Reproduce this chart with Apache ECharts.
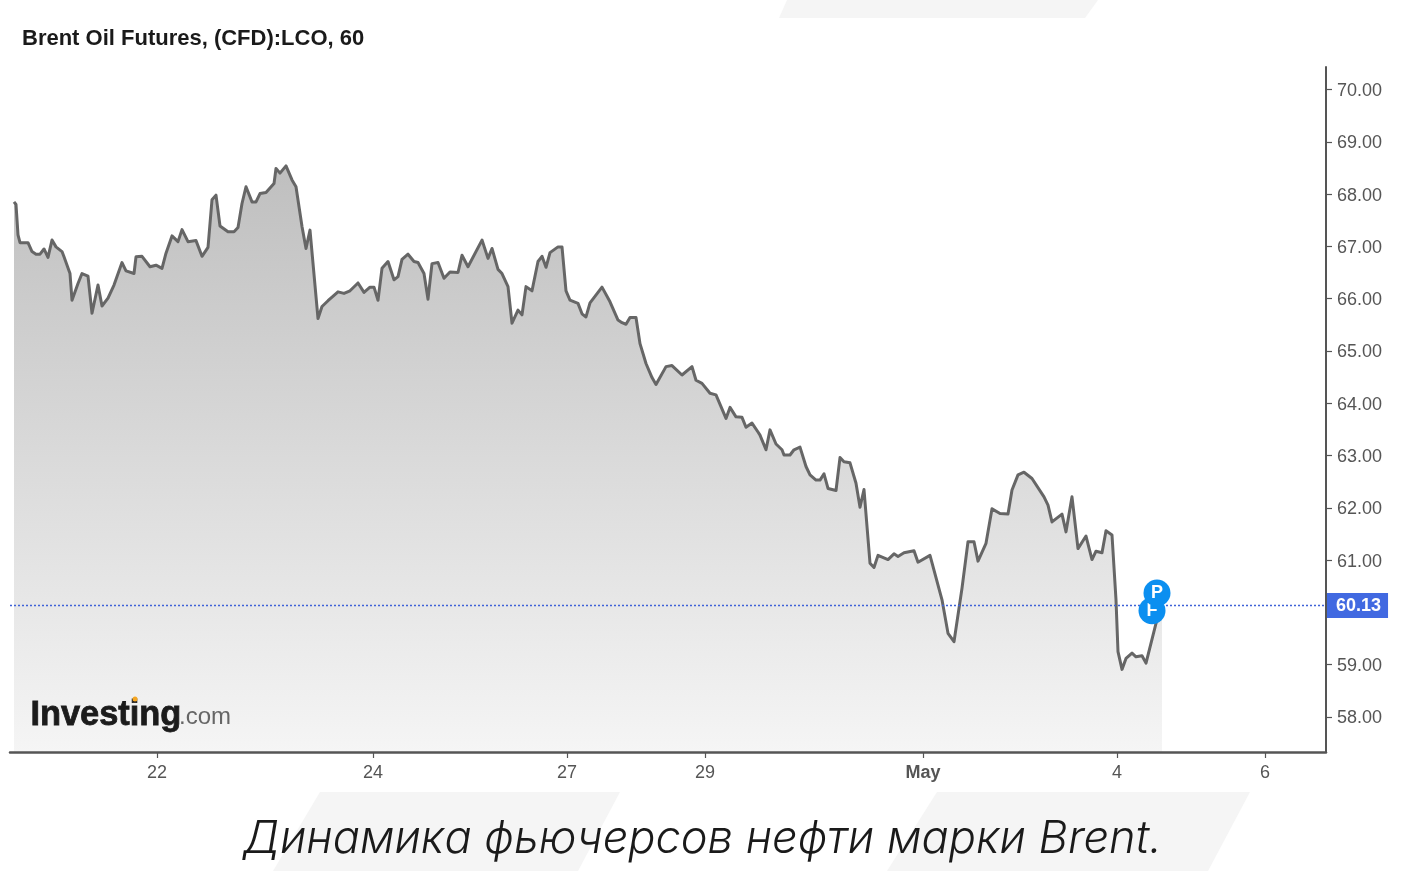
<!DOCTYPE html>
<html><head><meta charset="utf-8">
<style>html,body{margin:0;padding:0;background:#fff}#c{width:1401px;height:871px}</style>
<script src="https://cdn.jsdelivr.net/npm/echarts@6/dist/echarts.min.js"></script>
</head><body><div id="c"></div>
<script>
const barIndex = [2,3,4,5,6,9,11,13,15,17,19,21,23,26,27,30,31,34,36,37,39,41,44,46,49,52,56,58,62,63,66,70,71,73,76,78,81,84,86,89,93,96,99,101,103,105,109,112,114,116,118,121,123,125,128,132,133,135,138,141,143,146,148,150,154,156,159,164,167,170,174,177,180,182,184,186,189,192,194,196,199,202,204,207,209,211,214,217,220,224,226,229,236,239,241,244,246,249,251,254,256,258,261,264,266,268,270,274,276,278,280,284,286,288,290,296,300,304,306,308,310,313,315,318,321,323,328,331,336,341,343,346,350,353,358,360,363,366,368,371,374,375,378,380,383,386,387,390,392,395,398,400,403,405,407,409,413,415,417,420,423,425,427,430,432,434,439,442,444,447,452,454,460,466,469,472,476,479,482,484,488,491,495,499,501,504,507,511,517,519,521,526,528,531,534,538,541,543,546,548,551,553,554,556,558,561,563,566,568,573,576];
const prices = [67.85,67.8,67.22,67.07,67.06,67.07,66.9,66.85,66.85,66.95,66.79,67.12,66.99,66.9,66.8,66.48,65.97,66.29,66.48,66.48,66.43,65.72,66.26,65.86,66.01,66.26,66.69,66.53,66.48,66.8,66.81,66.61,66.58,66.64,66.58,66.87,67.2,67.09,67.32,67.09,67.11,66.81,66.98,67.89,67.98,67.39,67.28,67.28,67.36,67.82,68.14,67.85,67.85,68.01,68.03,68.2,68.49,68.4,68.54,68.27,68.14,67.38,66.96,67.31,65.62,65.85,65.96,66.13,66.1,66.15,66.3,66.12,66.22,66.22,65.97,66.58,66.71,66.36,66.42,66.75,66.85,66.71,66.69,66.48,65.99,66.67,66.69,66.39,66.51,66.5,66.83,66.61,67.12,66.77,66.96,66.56,66.48,66.23,65.53,65.78,65.69,66.23,66.15,66.71,66.81,66.6,66.88,66.99,66.99,66.15,65.97,65.91,65.71,65.65,65.92,66.22,65.94,65.59,65.54,65.51,65.64,65.64,65.14,64.76,64.49,64.36,64.7,64.72,64.54,64.7,64.44,64.38,64.19,64.16,63.71,63.92,63.74,63.73,63.54,63.62,63.45,63.39,63.11,63.49,63.22,63.11,63.01,63.01,63.11,63.16,62.79,62.63,62.53,62.53,62.65,62.37,62.33,62.96,62.88,62.86,62.47,62.01,62.35,60.94,60.86,61.09,61.01,61.12,61.07,61.14,61.18,60.96,61.09,60.24,59.6,59.44,60.46,61.35,61.35,60.98,61.32,61.98,61.89,61.88,62.34,62.63,62.68,62.56,62.21,62.05,61.73,61.88,61.54,62.21,61.22,61.46,61.01,61.17,61.14,61.56,61.48,60.24,59.25,58.91,59.12,59.22,59.15,59.17,59.03,59.79,60.13];
const lastPrice = 60.13;
const eventIndex = [571,573.5];
const eventPrices = [60.03,60.37];
const eventLabels = ['F','P'];
const yTicks = [58,59,61,62,63,64,65,66,67,68,69,70];
const xTickIndex = [73.5,181.5,278.5,347.5,456.5,553.5,627.5];
const xTickLabels = ['22','24','27','29','May','4','6'];
const titleText = 'Brent Oil Futures, (CFD):LCO, 60';
const captionText = 'Динамика фьючерсов нефти марки Brent.';

const poly = pts => ({type:'polygon',z:-10,silent:true,shape:{points:pts},style:{fill:'#f5f5f5'}});
const eventSeries = (i,z) => ({type:'scatter',data:[[eventIndex[i],eventPrices[i]]],symbol:'circle',symbolSize:27,z:z,
  itemStyle:{color:'#0b8ff0',opacity:1},
  label:{show:true,position:'inside',formatter:eventLabels[i],color:'#fff',fontWeight:'bold',fontSize:18,padding:[2,0,0,0]}});
const chart = echarts.init(document.getElementById('c'),null,{renderer:'canvas'});
chart.setOption({
  animation:false,
  backgroundColor:'#fff',
  textStyle:{fontFamily:'"Liberation Sans",Arial,sans-serif'},
  title:{text:titleText,left:17,top:23,textStyle:{fontSize:22,fontWeight:'bold',color:'#1a1a1a',fontFamily:'"Liberation Sans"'}},
  grid:{left:10,right:75,top:67,bottom:119,containLabel:false},
  xAxis:{type:'value',min:0,max:658,z:10,splitLine:{show:false},
    axisLine:{onZero:false,lineStyle:{color:'#555',width:2.5}},
    axisTick:{show:true,length:6,customValues:xTickIndex,lineStyle:{color:'#555',width:1.2}},
    axisLabel:{show:true,customValues:xTickIndex,margin:12,fontSize:18,color:'#555',hideOverlap:false,showMinLabel:true,showMaxLabel:true,
      formatter:v=>{const s=xTickLabels[xTickIndex.indexOf(v)]||'';return s==='May'?'{b|May}':s;},
      rich:{b:{fontWeight:'bold',fontSize:18,color:'#555'}}}},
  yAxis:{type:'value',position:'right',min:57.33,max:70.43,z:10,splitLine:{show:false},
    axisLine:{show:true,onZero:false,lineStyle:{color:'#555',width:2}},
    axisTick:{show:true,length:6,customValues:yTicks,lineStyle:{color:'#555',width:1.2}},
    axisLabel:{show:true,customValues:yTicks,margin:11,color:'#555',formatter:v=>'{a|'+v.toFixed(2)+'}',
      rich:{a:{fontSize:18,color:'#555',padding:[3,0,0,0]}}}},
  series:[
    {type:'line',data:barIndex.map((b,i)=>[b,prices[i]]),symbol:'none',smooth:false,
     lineStyle:{color:'#666',width:3,join:'round'},
     areaStyle:{opacity:1,color:new echarts.graphic.LinearGradient(0,0,0,1,[{offset:0,color:'#bfbfbf'},{offset:1,color:'#f5f5f5'}])},
     markLine:{silent:true,symbol:'none',animation:false,data:[{yAxis:lastPrice}],
       lineStyle:{color:'#3f62d8',type:[2,2],width:1.3},
       label:{show:true,position:'end',formatter:lastPrice.toFixed(2),distance:1,backgroundColor:'#4169e1',color:'#fff',fontWeight:'bold',fontSize:18,padding:[4,7,3,9],lineHeight:18}}},
    eventSeries(0,5),
    eventSeries(1,6)
  ],
  graphic:[
    poly([[787,0],[1098,0],[1085,18],[779,18]]),
    poly([[320,792],[620,792],[578,871],[273,871]]),
    poly([[937,792],[1250,792],[1208,871],[887,871]]),
    {type:'text',left:30,top:698,z:10,silent:true,style:{text:'Investing',fontFamily:'"Liberation Sans"',fontWeight:'bold',fontSize:34.4,fill:'#1b1b1b',stroke:'#1b1b1b',lineWidth:0.8}},
    {type:'text',left:179,top:705,z:10,silent:true,style:{text:'.com',fontFamily:'"Liberation Sans"',fontSize:24,fill:'#666'}},
    {type:'circle',z:11,silent:true,shape:{cx:135,cy:699,r:2.5},style:{fill:'#f5a623'}},
    {type:'text',left:243,top:817,z:10,silent:true,style:{text:captionText,fontFamily:'Inter',fontStyle:'italic',fontWeight:300,fontSize:45.2,fill:'#1a1a1a'}}
  ]
});
</script></body></html>
